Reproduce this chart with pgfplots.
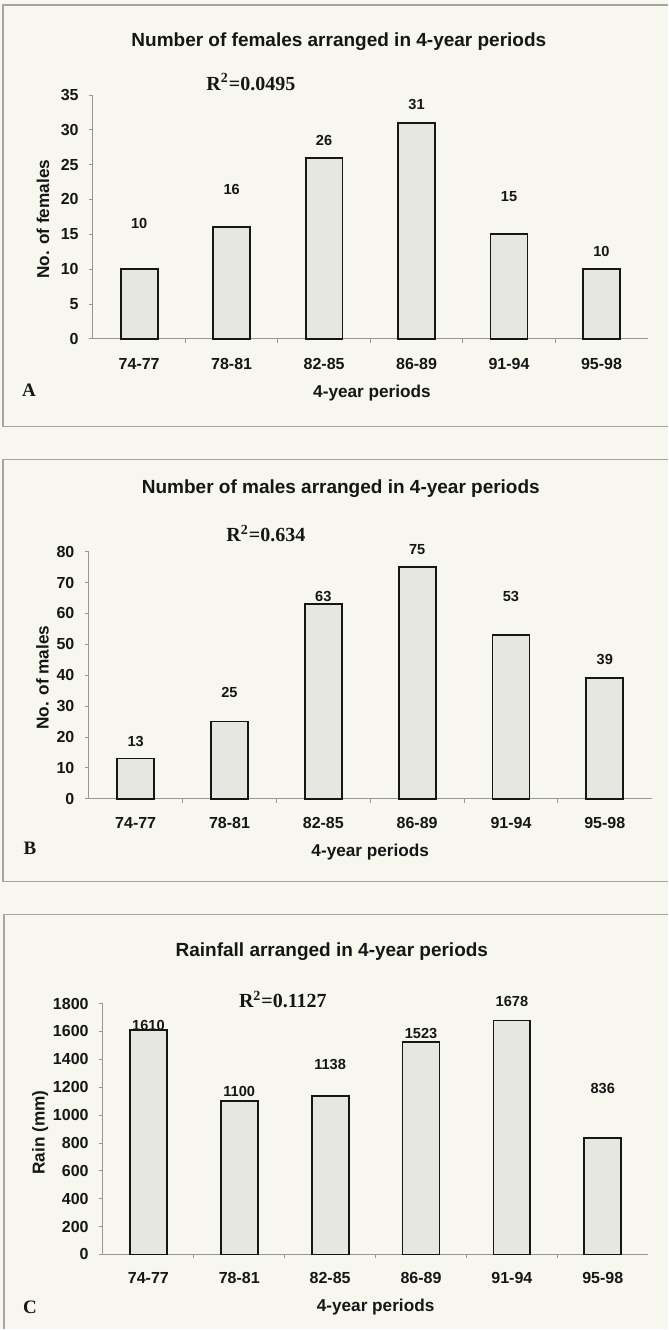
\documentclass[border=0pt]{standalone}
\usepackage{fontspec}
\setmainfont{Liberation Sans}
\newfontfamily\timesf{Liberation Serif}
\usepackage{pgfplots}
\pgfplotsset{compat=1.18}
\definecolor{bg}{RGB}{247,247,240}
\definecolor{barfill}{RGB}{231,231,225}
\definecolor{axgray}{RGB}{150,150,150}
\definecolor{framec}{RGB}{165,165,165}
\definecolor{ink}{RGB}{22,22,22}
\pgfplotsset{
  panel/.style={
    scale only axis, anchor=south west, clip=false,
    xmin=-0.5, xmax=5.5,
    axis x line*=bottom, axis y line*=left,
    axis line style={axgray, line width=0.5pt},
    xtick={0,...,5},
    xticklabels={74-77,78-81,82-85,86-89,91-94,95-98},
    tick align=outside,
    tick style={axgray, line width=0.4pt},
    major tick length=2pt, minor tick length=2pt,
    major x tick style={draw=none},
    minor x tick num=1,
    /pgf/number format/assume math mode=true,
    /pgf/number format/1000 sep={},
    ticklabel style={font=\bfseries\fontsize{8}{9}\selectfont, text=ink},
    xticklabel style={anchor=center, yshift=-10.5pt},
    yticklabel style={anchor=east, inner sep=0pt, xshift=-5pt},
    label style={font=\bfseries\fontsize{8.6}{10}\selectfont, text=ink},
    bar/.style={ybar, bar width=18.5pt, draw=ink, fill=barfill, line width=0.9pt},
    lab/.style={draw=none, mark=none, nodes near coords, point meta=explicit symbolic,
      nodes near coords style={anchor=center, font=\bfseries\fontsize{7.3}{8}\selectfont, text=ink}},
  }
}
\begin{document}
\begin{tikzpicture}
\fill[bg] (0,0) rectangle (334pt,665pt);
% frames
\draw[framec, line width=0.6pt] (334pt,662.5pt) -- (1.5pt,662.5pt) -- (1.5pt,451.5pt) -- (334pt,451.5pt);
\draw[framec, line width=0.6pt] (334pt,435pt) -- (1.5pt,435pt) -- (1.5pt,224pt) -- (334pt,224pt);
\draw[framec, line width=0.6pt] (334pt,207.5pt) -- (2pt,207.5pt) -- (2pt,0pt);

% Panel A
\begin{axis}[panel, at={(46.5pt,495.5pt)}, width=277.5pt, height=122pt,
  ymin=0, ymax=35, ytick={0,5,...,35},
  ylabel={No. of females}, ylabel style={at={(axis description cs:-0.090,0.49)}, anchor=center},
  xlabel={4-year periods}, xlabel style={at={(axis description cs:0.503,-0.222)}, anchor=center}]
\addplot[bar] coordinates {(0,10) (1,16) (2,26) (3,31) (4,15) (5,10)};
\addplot[lab] coordinates {(0,16.6) [10] (1,21.4) [16] (2,28.4) [26] (3,33.7) [31] (4,20.4) [15] (5,12.5) [10]};
\end{axis}

% Panel B
\begin{axis}[panel, at={(44.4pt,265.5pt)}, width=281.6pt, height=123.5pt,
  ymin=0, ymax=80, ytick={0,10,...,80},
  ylabel={No. of males}, ylabel style={at={(axis description cs:-0.082,0.49)}, anchor=center},
  xlabel={4-year periods}, xlabel style={at={(axis description cs:0.5,-0.215)}, anchor=center},
  xticklabel style={yshift=0.5pt}]
\addplot[bar] coordinates {(0,13) (1,25) (2,63) (3,75) (4,53) (5,39)};
\addplot[lab] coordinates {(0,18.5) [13] (1,34.4) [25] (2,65.6) [63] (3,80.8) [75] (4,65.6) [53] (5,45.1) [39]};
\end{axis}

% Panel C
\begin{axis}[panel, at={(51.5pt,37.5pt)}, width=272.75pt, height=125.5pt,
  ymin=0, ymax=1800, ytick={0,200,...,1800},
  ylabel={Rain (mm)}, ylabel style={at={(axis description cs:-0.115,0.486)}, anchor=center},
  xlabel={4-year periods}, xlabel style={at={(axis description cs:0.5,-0.21)}, anchor=center},
  xticklabel style={yshift=0.5pt}]
\addplot[bar] coordinates {(0,1610) (1,1100) (2,1138) (3,1523) (4,1678) (5,836)};
\addplot[lab] coordinates {(0,1642) [1610] (1,1172) [1100] (2,1360) [1138] (3,1583) [1523] (4,1813) [1678] (5,1187) [836]};
\end{axis}

% titles
\begin{scope}[every node/.style={text=ink}]
\node[font=\bfseries\fontsize{9.5}{11}\selectfont] at (169.5pt,644pt) {Number of females arranged in 4-year periods};
\node[font=\bfseries\fontsize{9.5}{11}\selectfont] at (170.5pt,420.5pt) {Number of males arranged in 4-year periods};
\node[font=\bfseries\fontsize{9.5}{11}\selectfont] at (166pt,189pt) {Rainfall arranged in 4-year periods};
\node[font=\timesf\bfseries\fontsize{10}{12}\selectfont] at (125.5pt,624pt) {R\textsuperscript{2}=0.0495};
\node[font=\timesf\bfseries\fontsize{10}{12}\selectfont] at (133pt,398pt) {R\textsuperscript{2}=0.634};
\node[font=\timesf\bfseries\fontsize{10}{12}\selectfont] at (141.5pt,165pt) {R\textsuperscript{2}=0.1127};
\node[font=\timesf\bfseries\fontsize{9.5}{11}\selectfont] at (14.5pt,470pt) {A};
\node[font=\timesf\bfseries\fontsize{9.5}{11}\selectfont] at (15pt,240.5pt) {B};
\node[font=\timesf\bfseries\fontsize{9.5}{11}\selectfont] at (15pt,11pt) {C};
\end{scope}
\end{tikzpicture}
\end{document}
